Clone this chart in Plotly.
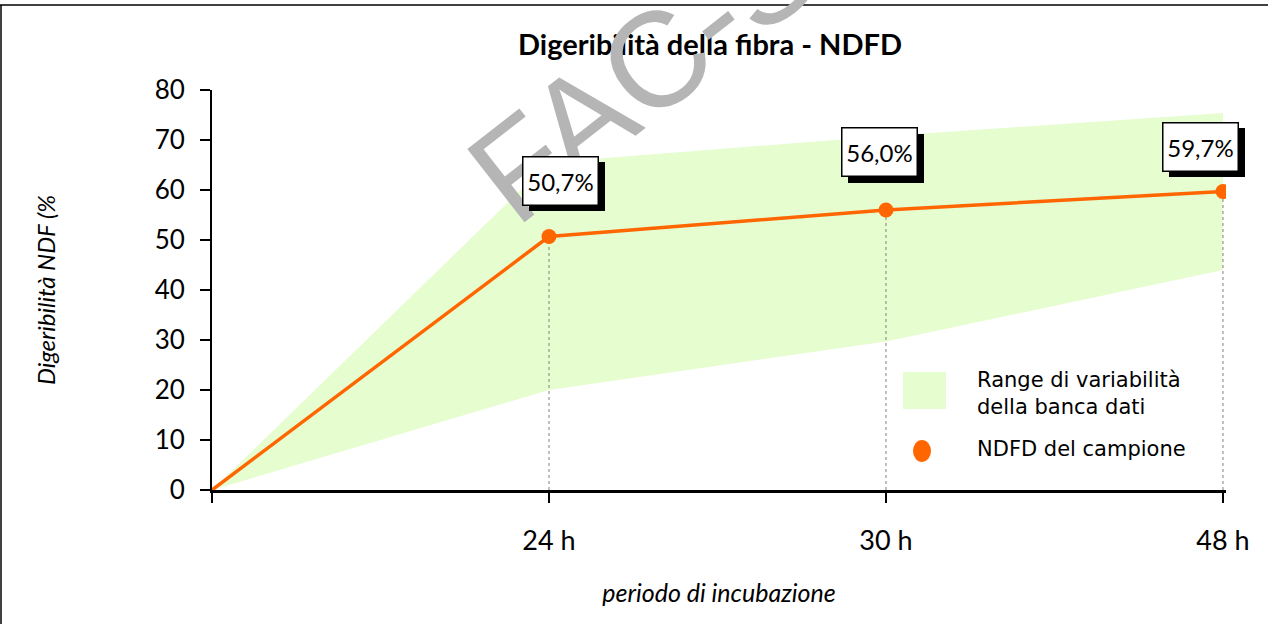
import plotly.graph_objects as go

# ---- data ----
categories = ["", "24 h", "30 h", "48 h"]
sample_ndfd = [0, 50.7, 56.0, 59.7]
range_low = [0, 20.0, 29.7, 44.0]
range_high = [0, 65.5, 70.8, 75.4]
labels = ["50,7%", "56,0%", "59,7%"]
y_ticks = [0, 10, 20, 30, 40, 50, 60, 70, 80]

ORANGE = "#FF6600"
GREEN = "#E6FDCF"
FONT = "Lato"

# plot area in pixels (for paper-coordinate helpers)
L, R, T, B = 212, 1226, 90, 490
def pxx(x):
    return (x - L) / (R - L)
def pyy(y):
    return (B - y) / (B - T)

xs = list(range(len(categories)))

fig = go.Figure()

# band
fig.add_trace(go.Scatter(x=xs, y=range_low, mode="lines", line=dict(width=0, color=GREEN),
                         showlegend=False, hoverinfo="skip"))
fig.add_trace(go.Scatter(x=xs, y=range_high, mode="lines", line=dict(width=0, color=GREEN),
                         fill="tonexty", fillcolor=GREEN, showlegend=False,
                         name="Range di variabilità della banca dati"))

# drop lines
for i in range(1, len(xs)):
    fig.add_trace(go.Scatter(x=[xs[i], xs[i]], y=[0, sample_ndfd[i]], mode="lines",
                             line=dict(color="#808080", width=1, dash="dot"),
                             showlegend=False, hoverinfo="skip"))

# sample line
fig.add_trace(go.Scatter(x=xs, y=sample_ndfd, mode="lines", line=dict(color=ORANGE, width=3.5),
                         showlegend=False, hoverinfo="skip"))
fig.add_trace(go.Scatter(x=xs[1:], y=sample_ndfd[1:], mode="markers",
                         marker=dict(color=ORANGE, size=15), showlegend=False,
                         name="NDFD del campione"))

annotations = []
# watermark
annotations.append(dict(text="FAC-SIMILE", xref="paper", yref="paper", x=pxx(783), y=pyy(-38),
                        xanchor="center", yanchor="middle", showarrow=False, textangle=-38,
                        font=dict(family="Liberation Sans", size=135, color="#B5B5B5")))

# value labels with shadow
shifts = [(12, 56), (-6, 58), (-22, 45)]
for i, (lab, (dx, dy)) in enumerate(zip(labels, shifts)):
    xi = xs[i + 1]
    yi = sample_ndfd[i + 1]
    annotations.append(dict(text="", x=xi, y=yi, xref="x", yref="y", showarrow=False,
                            xshift=dx + 6, yshift=dy - 6, width=74, height=47,
                            bgcolor="black", borderwidth=0))
    annotations.append(dict(text=lab, x=xi, y=yi, xref="x", yref="y", showarrow=False,
                            xshift=dx, yshift=dy, width=74, height=47,
                            bgcolor="white", bordercolor="black", borderwidth=1.5, borderpad=0,
                            font=dict(family=FONT, size=24, color="black")))

# manual legend texts
annotations.append(dict(text="Range di variabilità<br>della banca dati", xref="paper", yref="paper",
                        x=pxx(975), y=pyy(393), xanchor="left", yanchor="middle", align="left",
                        showarrow=False, font=dict(family="DejaVu Sans", size=21, color="black")))
annotations.append(dict(text="NDFD del campione", xref="paper", yref="paper",
                        x=pxx(975), y=pyy(449), xanchor="left", yanchor="middle", align="left",
                        showarrow=False, font=dict(family="DejaVu Sans", size=21, color="black")))

shapes = [
    dict(type="rect", xref="paper", yref="paper", x0=pxx(903), x1=pxx(946), y0=pyy(409), y1=pyy(372),
         fillcolor=GREEN, line=dict(width=0), layer="above"),
    dict(type="circle", xref="paper", yref="paper", x0=pxx(913), x1=pxx(931), y0=pyy(462), y1=pyy(440),
         fillcolor=ORANGE, line=dict(width=0), layer="above"),
    # outer frame (top and left edges visible)
    dict(type="line", xref="paper", yref="paper", x0=pxx(0), x1=pxx(1268), y0=pyy(5), y1=pyy(5),
         line=dict(color="black", width=1.5)),
    dict(type="line", xref="paper", yref="paper", x0=pxx(1), x1=pxx(1), y0=pyy(5), y1=pyy(624),
         line=dict(color="black", width=1.5)),
]

fig.update_layout(
    width=1268, height=624,
    margin=dict(l=L, r=1268 - R, t=T, b=624 - B),
    paper_bgcolor="white", plot_bgcolor="white",
    font=dict(family=FONT, color="black"),
    title=dict(text="<b>Digeribilità della fibra - NDFD</b>", x=pxx(710), xref="paper",
               y=1 - 45 / 624, yref="container", xanchor="center", yanchor="middle",
               font=dict(family=FONT, size=29, color="black")),
    showlegend=False,
    annotations=annotations,
    shapes=shapes,
)

fig.update_xaxes(range=[0, 3.009], tickvals=xs, ticktext=categories, showline=True,
                 linecolor="black", linewidth=2.5, ticks="outside", ticklen=10, tickwidth=1.5,
                 tickcolor="black", showgrid=False, zeroline=False, ticklabelstandoff=15,
                 tickfont=dict(family=FONT, size=27, color="black"),
                 title=dict(text="<i>periodo di incubazione</i>", standoff=30,
                            font=dict(family=FONT, size=25, color="black")))
fig.update_yaxes(range=[0, 80], tickvals=y_ticks, showline=True, linecolor="black", linewidth=2,
                 ticks="outside", ticklen=10, tickwidth=1.5, tickcolor="black", showgrid=False,
                 zeroline=False, ticklabelstandoff=10,
                 tickfont=dict(family=FONT, size=26, color="black"),
                 title=dict(text="<i>Digeribilità NDF (%</i>", standoff=92,
                            font=dict(family=FONT, size=24, color="black")))

fig.write_html("out.html", config={"displayModeBar": False},
               post_script="document.body.style.margin='0';")
